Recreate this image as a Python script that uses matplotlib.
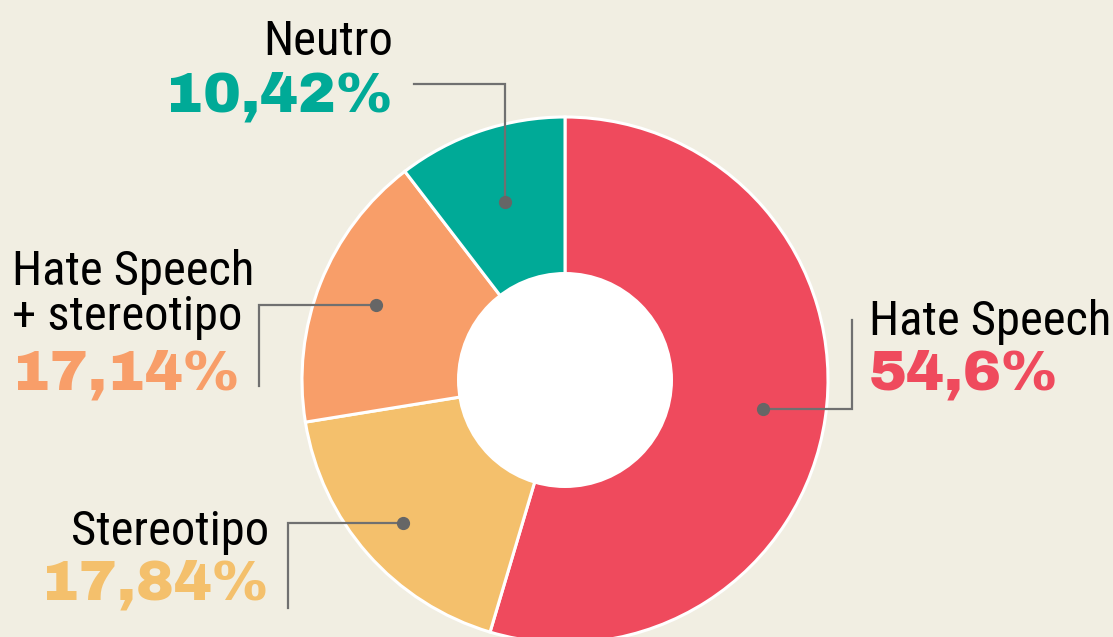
import matplotlib.pyplot as plt
import matplotlib.patches as mpatches
import numpy as np

# data
labels = ['Hate Speech', 'Stereotipo', 'Hate Speech\n+ stereotipo', 'Neutro']
values = [54.6, 17.84, 17.14, 10.42]
pct_text = ['54,6%', '17,84%', '17,14%', '10,42%']
colors = ['#ef4a5d', '#f4c06c', '#f89e69', '#00aa97']

bg = '#f1eee2'
W, H = 1113, 637
cx, cy, R, r_in = 565, 380, 263, 108

narrow = ['Roboto Condensed', 'Archivo Narrow', 'Barlow Condensed', 'DejaVu Sans']
heavy = ['Archivo Black', 'Liberation Sans', 'DejaVu Sans']

fig = plt.figure(figsize=(W/100, H/100), dpi=100, facecolor=bg)
ax = fig.add_axes([0, 0, 1, 1])
ax.set_facecolor(bg)

# y axis goes down, so counterclockwise in data = clockwise on screen
wedges, _ = ax.pie(values, colors=colors, startangle=-90, counterclock=True,
                   center=(cx, cy), radius=R,
                   wedgeprops=dict(edgecolor='white', linewidth=2.2))
ax.add_patch(mpatches.Circle((cx, cy), r_in, facecolor='white', edgecolor='none', zorder=3))

ax.set_xlim(0, W)
ax.set_ylim(H, 0)
ax.set_aspect('equal')
ax.axis('off')

# label layout: dot radius, leader end (ex, ey), vertical-first flag, text x, align, baselines
layout = [
    dict(rad=200, ex=852, ey=320, vfirst=False, tx=869, ha='left', yl=335, yp=390),
    dict(rad=216, ex=288, ey=608, vfirst=False, tx=269, ha='right', yl=545, yp=600),
    dict(rad=203, ex=259, ey=386, vfirst=False, tx=12, ha='left', yl=330, yp=390),
    dict(rad=188, ex=414, ey=84, vfirst=True, tx=393, ha='right', yl=55, yp=111),
]

line_col = '#707070'
dot_col = '#666666'
for w, lab, pct, col, lo in zip(wedges, labels, pct_text, colors, layout):
    mid = np.deg2rad((w.theta1 + w.theta2) / 2)
    dx = cx + lo['rad'] * np.cos(mid)
    dy = cy + lo['rad'] * np.sin(mid)
    if lo['vfirst']:
        xs, ys = [dx, dx, lo['ex']], [dy, lo['ey'], lo['ey']]
    else:
        xs, ys = [dx, lo['ex'], lo['ex']], [dy, dy, lo['ey']]
    ax.plot(xs, ys, color=line_col, lw=1.6, zorder=4, solid_joinstyle='miter')
    ax.plot(dx, dy, 'o', color=dot_col, ms=8.5, zorder=5)
    ax.text(lo['tx'], lo['yl'], lab, ha=lo['ha'], va='baseline', family=narrow,
            fontsize=35, color='black', linespacing=0.98, multialignment='left')
    ax.text(lo['tx'], lo['yp'], pct, ha=lo['ha'], va='baseline', family=heavy,
            fontsize=41, color=col)

fig.savefig('out.png', dpi=100, facecolor=bg)
